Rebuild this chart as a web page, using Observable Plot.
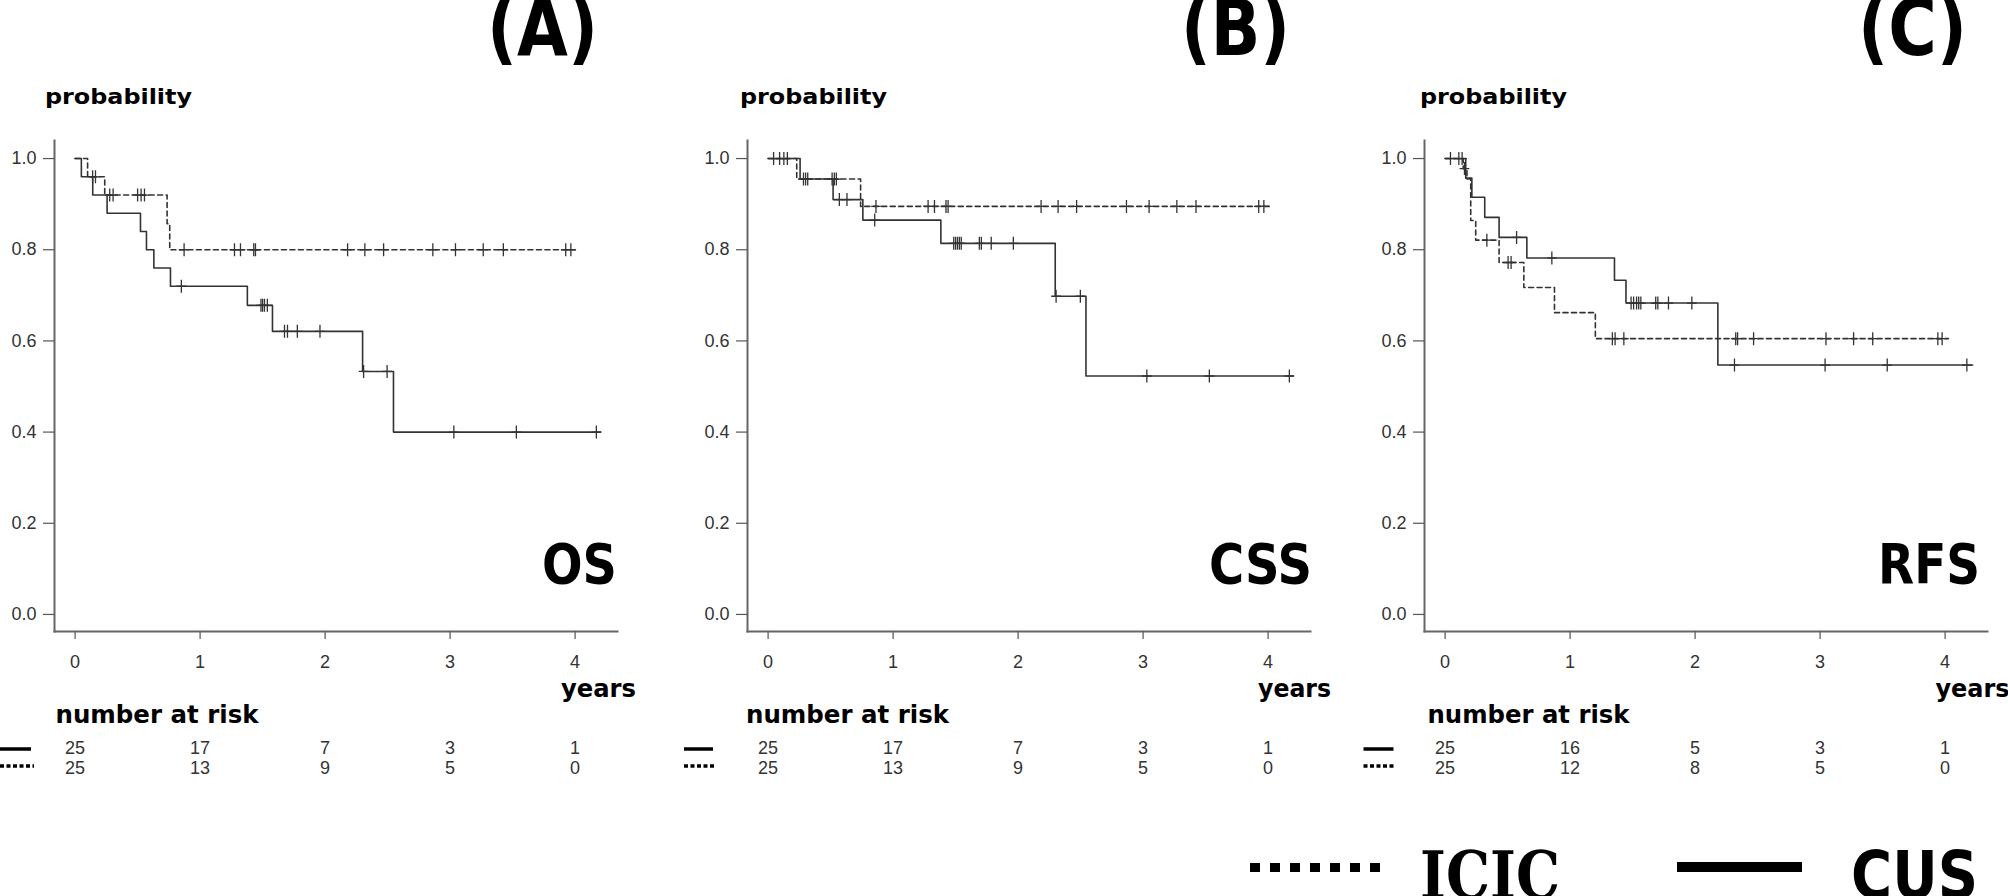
<!DOCTYPE html>
<html><head><meta charset="utf-8">
<script src="https://cdn.jsdelivr.net/npm/d3@7"></script>
<script src="https://cdn.jsdelivr.net/npm/@observablehq/plot@0.6"></script>
<style>
html,body{margin:0;padding:0;background:#fff;}
#wrap{position:relative;width:2008px;height:896px;overflow:hidden;background:#fff;}
#wrap svg{position:absolute;}
</style>
</head><body><div id="wrap"></div>
<script>
// ---------------- DATA ----------------
const xTicks = [0, 1, 2, 3, 4];
const yTicks = [0, 0.2, 0.4, 0.6, 0.8, 1.0];
const riskTimes = [0, 1, 2, 3, 4];
const groups = ["CUS", "ICIC"];
const panelLetters = ["(A)", "(B)", "(C)"];
const panelNames = ["OS", "CSS", "RFS"];

// Panel A: OS
const A_CUS_time = [0, 0.05, 0.141, 0.256, 0.523, 0.571, 0.63, 0.763, 1.378, 1.579, 2.30, 2.547];
const A_CUS_surv = [1, 0.96, 0.92, 0.88, 0.84, 0.80, 0.76, 0.72, 0.678, 0.621, 0.533, 0.40];
const A_CUS_end = 4.205;
const A_CUS_cens = [0.85, 1.487, 1.50, 1.515, 1.538, 1.675, 1.699, 1.778, 1.959, 2.308, 2.496, 3.03, 3.53, 4.17];
const A_ICIC_time = [0, 0.10, 0.237, 0.736, 0.757];
const A_ICIC_surv = [1, 0.96, 0.92, 0.857, 0.80];
const A_ICIC_end = 4.02;
const A_ICIC_cens = [0.14, 0.163, 0.277, 0.304, 0.50, 0.528, 0.555, 0.872, 1.275, 1.323, 1.429, 1.443, 2.18, 2.318, 2.468, 2.862, 3.043, 3.265, 3.426, 3.925, 3.966];
const A_CUS_risk = [25, 17, 7, 3, 1];
const A_ICIC_risk = [25, 13, 9, 5, 0];

// Panel B: CSS
const B_CUS_time = [0, 0.256, 0.52, 0.758, 1.382, 2.297, 2.543];
const B_CUS_surv = [1, 0.955, 0.91, 0.865, 0.814, 0.698, 0.523];
const B_CUS_end = 4.20;
const B_CUS_cens = [0.044, 0.126, 0.57, 0.631, 0.853, 1.485, 1.50, 1.515, 1.53, 1.545, 1.69, 1.706, 1.785, 1.962, 2.304, 2.498, 3.03, 3.53, 4.17];
const B_ICIC_time = [0, 0.229, 0.74];
const B_ICIC_surv = [1, 0.955, 0.895];
const B_ICIC_end = 4.01;
const B_ICIC_cens = [0.092, 0.154, 0.283, 0.30, 0.317, 0.512, 0.53, 0.546, 0.863, 1.28, 1.331, 1.423, 1.44, 2.184, 2.32, 2.468, 2.867, 3.048, 3.27, 3.423, 3.925, 3.966];
const B_CUS_risk = [25, 17, 7, 3, 1];
const B_ICIC_risk = [25, 13, 9, 5, 0];

// Panel C: RFS
const C_CUS_time = [0, 0.165, 0.214, 0.317, 0.432, 0.654, 1.355, 1.447, 2.182];
const C_CUS_surv = [1, 0.957, 0.915, 0.871, 0.827, 0.782, 0.733, 0.683, 0.547];
const C_CUS_end = 4.22;
const C_CUS_cens = [0.043, 0.11, 0.572, 0.854, 1.488, 1.508, 1.532, 1.549, 1.566, 1.685, 1.702, 1.787, 1.974, 2.315, 3.04, 3.537, 4.174];
const C_ICIC_time = [0, 0.145, 0.175, 0.205, 0.245, 0.432, 0.63, 0.875, 1.202];
const C_ICIC_surv = [1, 0.978, 0.955, 0.864, 0.821, 0.772, 0.717, 0.662, 0.605];
const C_ICIC_end = 4.027;
const C_ICIC_cens = [0.136, 0.155, 0.334, 0.504, 0.528, 1.338, 1.36, 1.43, 2.325, 2.34, 2.468, 3.047, 3.268, 3.421, 3.942, 3.976];
const C_CUS_risk = [25, 16, 5, 3, 1];
const C_ICIC_risk = [25, 12, 8, 5, 0];

// ---------------- BUILD ----------------
function stepPoints(times, surv, end) {
  const pts = times.map((t, i) => ({t, s: surv[i]}));
  pts.push({t: end, s: surv[surv.length - 1]});
  return pts;
}
function survAt(times, surv, t) {
  let s = surv[0];
  for (let i = 0; i < times.length; i++) if (times[i] <= t) s = surv[i];
  return s;
}
function censPoints(times, surv, cens) {
  return cens.map(t => ({t, s: survAt(times, surv, t)}));
}

const panels = [
  {cus: [A_CUS_time, A_CUS_surv, A_CUS_end, A_CUS_cens], icic: [A_ICIC_time, A_ICIC_surv, A_ICIC_end, A_ICIC_cens], risk: [A_CUS_risk, A_ICIC_risk]},
  {cus: [B_CUS_time, B_CUS_surv, B_CUS_end, B_CUS_cens], icic: [B_ICIC_time, B_ICIC_surv, B_ICIC_end, B_ICIC_cens], risk: [B_CUS_risk, B_ICIC_risk]},
  {cus: [C_CUS_time, C_CUS_surv, C_CUS_end, C_CUS_cens], icic: [C_ICIC_time, C_ICIC_surv, C_ICIC_end, C_ICIC_cens], risk: [C_CUS_risk, C_ICIC_risk]}
];

// layout
const panelLeft = [1, 694, 1371];
const W = 631, ML = 53, MR = 15;
const xDomain = [-0.1648, 4.3392];
const yDomain = [-0.0374, 1.0396];
const lineColor = "#333";

const censorSymbol = {
  draw(ctx, size) {
    const r = Math.sqrt(size / Math.PI);
    ctx.moveTo(0, -r); ctx.lineTo(0, r);
    ctx.moveTo(-r * 0.75, 0); ctx.lineTo(r * 0.75, 0);
  }
};

const wrap = document.getElementById("wrap");

panels.forEach((p, i) => {
  const [ct, cs, ce, cc] = p.cus;
  const [it, is, ie, ic] = p.icic;
  const chart = Plot.plot({
    width: W, height: 561, marginLeft: ML, marginRight: MR, marginTop: 20, marginBottom: 50,
    x: {domain: xDomain},
    y: {domain: yDomain},
    style: {fontFamily: "'Liberation Sans', Arial, sans-serif", fontSize: "18px", color: "#333", background: "transparent", overflow: "visible"},
    marks: [
      Plot.frame({anchor: "left", stroke: "#666", strokeWidth: 2}),
      Plot.frame({anchor: "bottom", stroke: "#666", strokeWidth: 2}),
      Plot.axisY({ticks: yTicks, tickFormat: d3.format(".1f"), tickSize: 11, tickPadding: 7, label: null, stroke: "#555", strokeWidth: 1.2}),
      Plot.axisX({ticks: xTicks, tickFormat: d3.format("d"), tickSize: 8, tickPadding: 16, label: null, stroke: "#555", strokeWidth: 1.2}),
      Plot.line(stepPoints(it, is, ie), {x: "t", y: "s", curve: "step-after", stroke: lineColor, strokeWidth: 1.6, strokeDasharray: "5,3.5"}),
      Plot.line(stepPoints(ct, cs, ce), {x: "t", y: "s", curve: "step-after", stroke: lineColor, strokeWidth: 1.6}),
      Plot.dot(censPoints(it, is, ic), {x: "t", y: "s", symbol: censorSymbol, r: 6.5, stroke: lineColor, strokeWidth: 1.3, fill: "none"}),
      Plot.dot(censPoints(ct, cs, cc), {x: "t", y: "s", symbol: censorSymbol, r: 6.5, stroke: lineColor, strokeWidth: 1.3, fill: "none"})
    ]
  });
  chart.style.left = panelLeft[i] + "px";
  chart.style.top = "120px";
  wrap.appendChild(chart);

  const riskData = [];
  groups.forEach((g, gi) => riskTimes.forEach((t, ti) => riskData.push({g, t, n: p.risk[gi][ti]})));
  const risk = Plot.plot({
    width: W, height: 50, marginLeft: ML, marginRight: MR, marginTop: 0, marginBottom: 0,
    x: {domain: xDomain, axis: null},
    y: {type: "point", domain: groups, range: [18, 38], padding: 0, axis: null},
    style: {fontFamily: "'Liberation Sans', Arial, sans-serif", background: "transparent", overflow: "visible"},
    marks: [
      Plot.text(riskData, {x: "t", y: "g", text: "n", fontSize: 18, fill: "#333"})
    ]
  });
  risk.style.left = panelLeft[i] + "px";
  risk.style.top = "730px";
  wrap.appendChild(risk);
});

// ---------------- ANNOTATIONS (titles, labels, legend) ----------------
const ov = d3.select(wrap).append("svg")
  .attr("width", 2008).attr("height", 896)
  .style("left", "0px").style("top", "0px").style("pointer-events", "none");

function label(txt, x, y, size, len, family) {
  ov.append("text").text(txt)
    .attr("x", x).attr("y", y)
    .attr("font-family", family || "'DejaVu Sans', Verdana, sans-serif")
    .attr("font-weight", "bold").attr("font-size", size)
    .attr("textLength", len).attr("lengthAdjust", "spacingAndGlyphs")
    .attr("fill", "#000");
}

const letterX = [487, 1181, 1858], letterLen = [111, 109, 109];
const nameX = [542, 1209, 1878], nameLen = [75, 103, 102];
const probX = [45, 740, 1420];
const yearsX = [561, 1258, 1935.5], yearsLen = [75, 73, 74];
const narX = [55.5, 746, 1427.5], narLen = [203, 203, 202];
const legSolid = [[0, 31], [684, 713], [1363.5, 1393.5]];
const legDot = [[0, 34], [684, 716], [1363.5, 1395]];

for (let i = 0; i < 3; i++) {
  label(panelLetters[i], letterX[i], 55, 78, letterLen[i]);
  label("probability", probX[i], 104, 22, 147);
  label(panelNames[i], nameX[i], 583, 55, nameLen[i]);
  label("years", yearsX[i], 697, 24, yearsLen[i]);
  label("number at risk", narX[i], 723, 24, narLen[i]);
  ov.append("line").attr("x1", legSolid[i][0]).attr("x2", legSolid[i][1]).attr("y1", 749).attr("y2", 749)
    .attr("stroke", "#000").attr("stroke-width", 3.5);
  ov.append("line").attr("x1", legDot[i][0]).attr("x2", legDot[i][1]).attr("y1", 766).attr("y2", 766)
    .attr("stroke", "#000").attr("stroke-width", 3.5).attr("stroke-dasharray", "4,2.5");
}

// bottom legend
ov.append("line").attr("x1", 1250).attr("x2", 1380).attr("y1", 867.5).attr("y2", 867.5)
  .attr("stroke", "#000").attr("stroke-width", 9).attr("stroke-dasharray", "10,10");
label("ICIC", 1420, 898, 66, 140, "'DejaVu Serif', 'Liberation Serif', serif");
ov.append("line").attr("x1", 1677).attr("x2", 1802).attr("y1", 867).attr("y2", 867)
  .attr("stroke", "#000").attr("stroke-width", 10);
label("CUS", 1851, 898, 66, 127);
</script>
</body></html>
